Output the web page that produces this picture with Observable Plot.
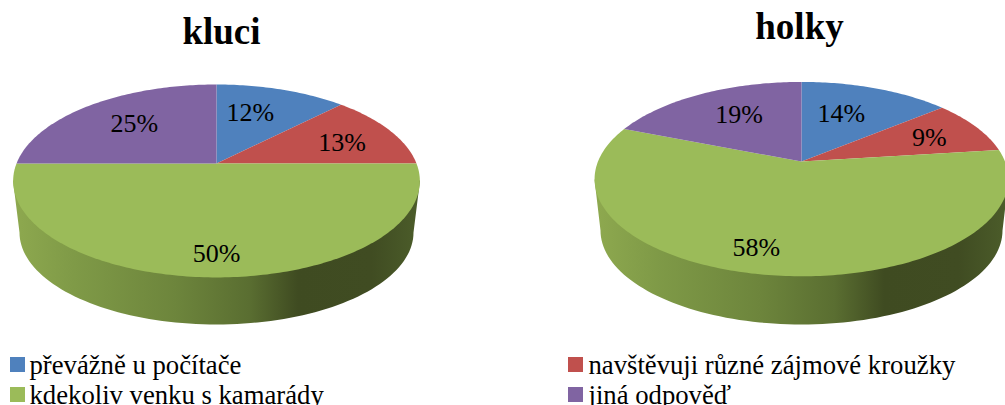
<!DOCTYPE html>
<html>
<head>
<meta charset="utf-8">
<script src="https://cdn.jsdelivr.net/npm/d3@7"></script>
<script src="https://cdn.jsdelivr.net/npm/@observablehq/plot@0.6"></script>
<style>
html,body{margin:0;padding:0;background:#fff;overflow:hidden;width:1005px;height:405px}
svg{display:block}
</style>
</head>
<body>
<div id="chart"></div>
<script>
const categories = ["převážně u počítače","navštěvuji různé zájmové kroužky","kdekoliv venku s kamarády","jiná odpověď"];
const colors = ["#4f81bd","#c0504d","#9bbb59","#8064a2"];
const kluciValues = [12.4,12.6,50,25];
const holkyValues = [14,9,58,19];
const titles = ["kluci","holky"];

// layout constants, in SVG pixels
const pies = [
  {title:titles[0], values:kluciValues, cx:216, apexY:163, A:200, B:93.3, k:0.181,
   low:{cx:216,cy:232,rx:197,ry:92}, topEdgeY:180, rx:203.5,
   titleX:221, titleY:32, shift:[[-15,5],[-1,4],[0,13],[11,4]]},
  {title:titles[1], values:holkyValues, cx:801, apexY:161, A:203.5, B:94, k:0.181,
   low:{cx:801,cy:230,rx:201,ry:94}, topEdgeY:179, rx:207,
   titleX:799, titleY:27, shift:[[-16,7],[0,2],[-24,9],[12,4]]}
];
const legendSpots = [
  {i:0,sx:10,tx:29,row:0},{i:1,sx:568,tx:588,row:0},
  {i:2,sx:10,tx:29,row:1},{i:3,sx:568,tx:588,row:1}
];
const legendY = [373,403];
const serif = "'Liberation Serif','Times New Roman',serif";

// unit-disc point -> screen (perspective tilt)
const proj = (p,x,y)=>{const d=1+p.k*y;return [p.cx+p.A*x/d,p.apexY-p.B*y/d];};

const faces=[], walls=[], labels=[];
pies.forEach(p=>{
  let acc=0;
  p.values.forEach((v,i)=>{
    const a0=acc/100*2*Math.PI, a1=(acc+v)/100*2*Math.PI, id=p.title+i;
    const [ax,ay]=proj(p,0,0);
    faces.push({id,cat:categories[i],px:ax,py:ay});
    const n=Math.max(2,Math.ceil((a1-a0)/(Math.PI/180)));
    for(let j=0;j<=n;j++){
      const a=a0+(a1-a0)*j/n;
      const [x,y]=proj(p,Math.sin(a),Math.cos(a));
      faces.push({id,cat:categories[i],px:x,py:y});
    }
    const mid=(a0+a1)/2;
    const [lx,ly]=proj(p,0.72*Math.sin(mid),0.72*Math.cos(mid));
    labels.push({text:Math.round(v)+"%",px:lx+p.shift[i][0],py:ly+p.shift[i][1]});
    acc+=v;
  });
  const L=p.low;
  walls.push({id:p.title,px:p.cx-p.rx,py:p.topEdgeY});
  for(let t=180;t>=0;t-=2){
    const r=t*Math.PI/180;
    walls.push({id:p.title,px:L.cx+L.rx*Math.cos(r),py:L.cy+L.ry*Math.sin(r)});
  }
  walls.push({id:p.title,px:p.cx+p.rx,py:p.topEdgeY});
});

const defs = ()=>{
  const d=d3.create("svg:defs");
  const g=d.append("linearGradient").attr("id","wall").attr("x1",0).attr("x2",1).attr("y1",0).attr("y2",0);
  [[0,"#8ea94f"],[0.15,"#7f9a47"],[0.4,"#6d853c"],[0.58,"#5a6e31"],[0.7,"#3f4b21"],[0.88,"#404c22"],[1,"#4c5d2a"]]
    .forEach(([o,c])=>g.append("stop").attr("offset",o).attr("stop-color",c));
  return d.node();
};

const plot = Plot.plot({
  width:1005,height:405,margin:0,
  x:{domain:[0,1005],range:[0,1005],axis:null},
  y:{domain:[0,405],range:[0,405],axis:null},
  color:{domain:categories,range:colors},
  style:{background:"#fff"},
  marks:[
    defs,
    Plot.line(walls,{x:"px",y:"py",z:"id",fill:"url(#wall)",stroke:"none"}),
    Plot.line(faces,{x:"px",y:"py",z:"id",fill:"cat",stroke:"none"}),
    Plot.text(labels,{x:"px",y:"py",text:"text",fontFamily:serif,fontSize:26,fill:"#000"}),
    Plot.text(pies,{x:"titleX",y:"titleY",text:"title",fontFamily:serif,fontSize:37,fontWeight:"bold",fill:"#000",textAnchor:"middle"}),
    Plot.rect(legendSpots,{x1:"sx",x2:d=>d.sx+15,y1:d=>legendY[d.row]-16,y2:d=>legendY[d.row]-1,fill:d=>categories[d.i]}),
    Plot.text(legendSpots,{x:"tx",y:d=>legendY[d.row],text:d=>categories[d.i],fontFamily:serif,fontSize:26.7,fill:"#000",textAnchor:"start",lineAnchor:"bottom",dy:0})
  ]
});
document.getElementById("chart").appendChild(plot);
</script>
</body>
</html>
